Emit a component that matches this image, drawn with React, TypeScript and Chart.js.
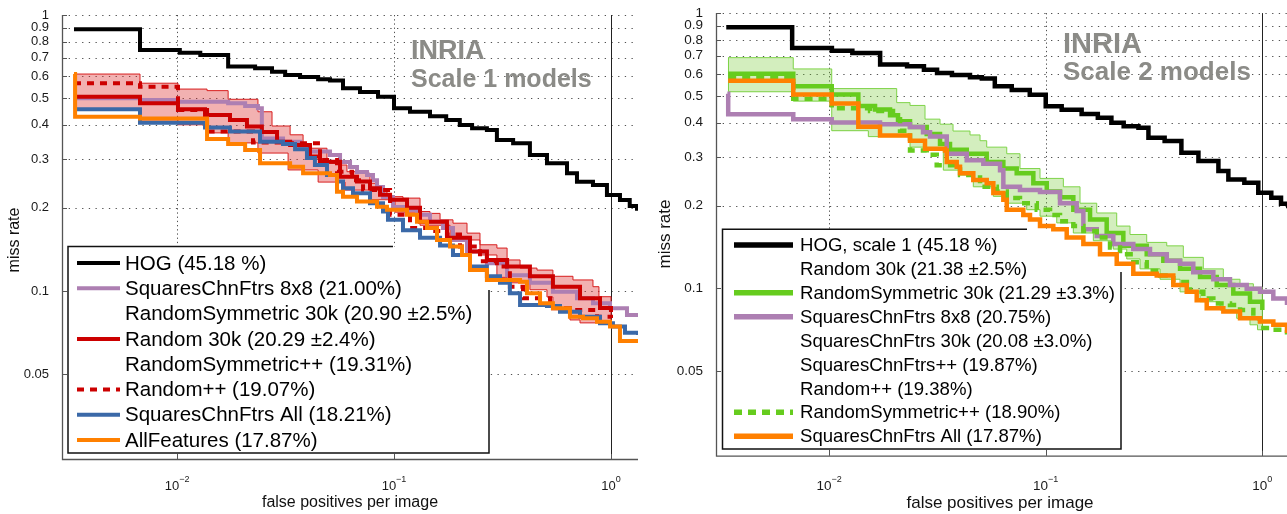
import React, { useEffect, useRef } from 'react';
import { Chart, registerables } from 'chart.js';

Chart.register(...registerables);

// [false positives per image, miss rate]; each point starts a new level of the staircase
type Pt = [number, number];

const FONT = '"Liberation Sans", Arial, Helvetica, sans-serif';

const yTickValues = [0.05, 0.1, 0.2, 0.3, 0.4, 0.5, 0.6, 0.7, 0.8, 0.9, 1];
const yTickLabels = ['0.05', '0.1', '0.2', '0.3', '0.4', '0.5', '0.6', '0.7', '0.8', '0.9', '1'];
const xTickValues = [0.01, 0.1, 1];
const xTickExponents = ['\u22122', '\u22121', '0'];

// HOG baseline, shared by both panels
const hogCurve: Pt[] = [
  [0.00335, 0.888], [0.00675, 0.747], [0.0103, 0.73], [0.0128, 0.716], [0.0172, 0.65],
  [0.0229, 0.641], [0.0274, 0.623], [0.0315, 0.606], [0.0369, 0.596], [0.0447, 0.585],
  [0.0507, 0.579], [0.0582, 0.543], [0.0697, 0.526], [0.0844, 0.505], [0.1, 0.459],
  [0.1185, 0.446], [0.1465, 0.43], [0.174, 0.4165], [0.201, 0.3996], [0.229, 0.3886],
  [0.268, 0.383], [0.298, 0.3524], [0.354, 0.3429], [0.423, 0.311], [0.507, 0.2902],
  [0.627, 0.267], [0.697, 0.2489], [0.826, 0.2421], [0.958, 0.2228], [1.1, 0.2137],
  [1.22, 0.203], [1.318, 0.1954],
];

// ---- Scale 1 models ----
const s1Squares8x8: Pt[] = [
  [0.00335, 0.499], [0.00675, 0.492], [0.0101, 0.485], [0.0172, 0.479], [0.0206, 0.468],
  [0.0236, 0.459], [0.0246, 0.357], [0.0308, 0.347], [0.0369, 0.332], [0.041, 0.32],
  [0.0507, 0.311], [0.0564, 0.293], [0.0627, 0.281], [0.0675, 0.27], [0.0751, 0.263],
  [0.08, 0.252], [0.0835, 0.238], [0.089, 0.219], [0.0989, 0.2015], [0.11, 0.197],
  [0.1276, 0.189], [0.1465, 0.178], [0.168, 0.169], [0.187, 0.153], [0.217, 0.139],
  [0.268, 0.126], [0.332, 0.114], [0.423, 0.107], [0.54, 0.0994], [0.697, 0.0941],
  [0.826, 0.0902], [0.99, 0.0866], [1.185, 0.0818], [1.332, 0.0807],
];
const s1Random30k: Pt[] = [
  [0.00335, 0.506], [0.00675, 0.479], [0.0101, 0.455], [0.01346, 0.434], [0.01754, 0.4165],
  [0.021, 0.394], [0.0246, 0.377], [0.0289, 0.3475], [0.0332, 0.338], [0.041, 0.307],
  [0.0456, 0.294], [0.0564, 0.2595], [0.0675, 0.249], [0.0775, 0.2355], [0.0862, 0.223],
  [0.0959, 0.214], [0.1148, 0.2], [0.1318, 0.178], [0.1754, 0.156], [0.224, 0.139],
  [0.268, 0.1295], [0.332, 0.1225], [0.423, 0.113], [0.54, 0.1036], [0.72, 0.0941],
  [0.89, 0.0868], [1.0, 0.0839],
];
const s1Random30kUpper: Pt[] = [
  [0.00335, 0.611], [0.00675, 0.566], [0.0101, 0.539], [0.01375, 0.532], [0.0172, 0.495],
  [0.0236, 0.446], [0.0274, 0.396], [0.0332, 0.368], [0.0381, 0.333], [0.041, 0.329],
  [0.0491, 0.29], [0.0564, 0.286], [0.0607, 0.2705], [0.0751, 0.267], [0.0775, 0.2456],
  [0.0835, 0.232], [0.0928, 0.2196], [0.11, 0.217], [0.1318, 0.194], [0.1465, 0.191],
  [0.163, 0.181], [0.187, 0.176], [0.217, 0.162], [0.249, 0.147], [0.298, 0.143],
  [0.332, 0.1295], [0.381, 0.121], [0.456, 0.119], [0.54, 0.113], [0.668, 0.1096],
  [0.826, 0.1036], [0.88, 0.0953], [1.0, 0.0953],
];
const s1Random30kLower: Pt[] = [
  [0.00335, 0.611], [0.00336, 0.457], [0.00675, 0.4165], [0.0101, 0.4], [0.01375, 0.374],
  [0.0172, 0.344], [0.0236, 0.316], [0.0325, 0.2745], [0.0447, 0.248], [0.0595, 0.232],
  [0.0775, 0.214], [0.1011, 0.193], [0.1318, 0.173], [0.1812, 0.153], [0.249, 0.135],
  [0.298, 0.112], [0.332, 0.107], [0.423, 0.101], [0.507, 0.0951], [0.54, 0.0868],
  [0.647, 0.0785], [0.72, 0.0766], [1.0, 0.0953],
];
const s1RandomPP: Pt[] = [
  [0.00335, 0.566], [0.00675, 0.55], [0.0101, 0.453], [0.01375, 0.378], [0.0224, 0.345],
  [0.0332, 0.343], [0.0456, 0.298], [0.0546, 0.2705], [0.0641, 0.252], [0.072, 0.232],
  [0.0959, 0.189], [0.1185, 0.169], [0.1465, 0.165], [0.1754, 0.16], [0.2014, 0.145],
  [0.249, 0.128], [0.298, 0.1225], [0.342, 0.1036], [0.393, 0.0941], [0.524, 0.0866],
  [0.647, 0.0853], [0.862, 0.0807], [1.0, 0.0798],
];
const s1SquaresAll: Pt[] = [
  [0.00335, 0.455], [0.00675, 0.407], [0.01346, 0.391], [0.01754, 0.378], [0.02413, 0.3475],
  [0.0308, 0.341], [0.035, 0.326], [0.0397, 0.303], [0.0432, 0.286], [0.0491, 0.263],
  [0.0546, 0.249], [0.0582, 0.2355], [0.0647, 0.226], [0.0775, 0.208], [0.089, 0.194],
  [0.0938, 0.181], [0.11, 0.166], [0.1318, 0.156], [0.163, 0.146], [0.187, 0.135],
  [0.224, 0.1225], [0.268, 0.113], [0.308, 0.107], [0.342, 0.0981], [0.381, 0.089],
  [0.507, 0.0882], [0.582, 0.0841], [0.72, 0.0807], [0.89, 0.0764], [1.021, 0.0743],
  [1.16, 0.0705], [1.332, 0.0693],
];
const s1AllFeatures: Pt[] = [
  [0.00335, 0.611], [0.00339, 0.428], [0.00675, 0.422], [0.01375, 0.355], [0.0172, 0.341],
  [0.0206, 0.324], [0.02413, 0.29], [0.0332, 0.282], [0.0381, 0.267], [0.0507, 0.263],
  [0.0546, 0.229], [0.0582, 0.2196], [0.0675, 0.211], [0.0835, 0.202], [0.0928, 0.197],
  [0.1148, 0.189], [0.1276, 0.178], [0.1419, 0.169], [0.1578, 0.153], [0.1812, 0.145],
  [0.2058, 0.135], [0.224, 0.119], [0.268, 0.1096], [0.381, 0.108], [0.41, 0.0981],
  [0.471, 0.0902], [0.54, 0.0866], [0.647, 0.0807], [0.743, 0.0796], [0.862, 0.0774],
  [0.99, 0.0743], [1.1, 0.0659], [1.332, 0.0659],
];

// ---- Scale 2 models ----
const s2RandSym30k: Pt[] = [
  [0.00342, 0.602], [0.00683, 0.542], [0.01028, 0.506], [0.01364, 0.46], [0.01629, 0.447],
  [0.01911, 0.426], [0.0208, 0.405], [0.02363, 0.3855], [0.02822, 0.364], [0.03251, 0.335],
  [0.03615, 0.319], [0.04318, 0.3085], [0.0534, 0.288], [0.06373, 0.2726], [0.07346, 0.262],
  [0.08766, 0.241], [0.1011, 0.225], [0.1164, 0.2146], [0.1341, 0.1932], [0.1602, 0.178],
  [0.1912, 0.159], [0.2282, 0.143], [0.2926, 0.133], [0.3491, 0.126], [0.417, 0.118],
  [0.5157, 0.11], [0.6159, 0.103], [0.7346, 0.0958], [0.877, 0.0895], [1.0, 0.0835],
];
const s2RandSym30kUpper: Pt[] = [
  [0.00342, 0.689], [0.00683, 0.627], [0.01028, 0.532], [0.02051, 0.473], [0.02363, 0.462],
  [0.02771, 0.412], [0.03251, 0.395], [0.03733, 0.373], [0.04472, 0.361], [0.04974, 0.344],
  [0.0534, 0.326], [0.06607, 0.3085], [0.07607, 0.2726], [0.0941, 0.251], [0.1206, 0.234],
  [0.144, 0.204], [0.172, 0.188], [0.2127, 0.1685], [0.245, 0.157], [0.2926, 0.147],
  [0.362, 0.1428], [0.4318, 0.1297], [0.534, 0.1178], [0.6607, 0.108], [0.789, 0.104],
  [0.909, 0.101], [1.0, 0.0998],
];
const s2RandSym30kLower: Pt[] = [
  [0.00342, 0.689], [0.00343, 0.518], [0.00683, 0.479], [0.01028, 0.374], [0.01517, 0.356],
  [0.02363, 0.326], [0.02722, 0.317], [0.03367, 0.269], [0.04021, 0.258], [0.04631, 0.234],
  [0.0573, 0.216], [0.06607, 0.204], [0.0817, 0.1932], [0.0941, 0.183], [0.1124, 0.173],
  [0.1341, 0.159], [0.1659, 0.149], [0.2051, 0.139], [0.2366, 0.128], [0.2725, 0.1178],
  [0.3371, 0.108], [0.417, 0.0972], [0.5157, 0.0895], [0.638, 0.0835], [0.7616, 0.0779],
  [0.877, 0.0738], [0.95, 0.0708], [1.0, 0.0998],
];
const s2RandSymPP: Pt[] = [
  [0.00342, 0.586], [0.00683, 0.489], [0.01028, 0.451], [0.01545, 0.441], [0.01972, 0.412],
  [0.02125, 0.374], [0.02363, 0.317], [0.02822, 0.306], [0.03139, 0.28], [0.04021, 0.258],
  [0.04974, 0.234], [0.0594, 0.225], [0.06607, 0.213], [0.07607, 0.204], [0.0909, 0.1932],
  [0.1047, 0.185], [0.1164, 0.1756], [0.1341, 0.1685], [0.1492, 0.1616], [0.172, 0.153],
  [0.1981, 0.141], [0.2203, 0.133], [0.2537, 0.1245], [0.2926, 0.116], [0.3371, 0.1115],
  [0.3882, 0.1055], [0.4636, 0.0972], [0.534, 0.0919], [0.594, 0.0882], [0.709, 0.0871],
  [0.789, 0.0835], [0.909, 0.0779], [0.976, 0.0718], [1.124, 0.0708], [1.3, 0.068],
];
const s2Squares8x8: Pt[] = [
  [0.00339, 0.509], [0.00342, 0.429], [0.00683, 0.412], [0.01028, 0.401], [0.01718, 0.395],
  [0.02363, 0.3855], [0.02714, 0.369], [0.02923, 0.3565], [0.03491, 0.3085], [0.04318, 0.292],
  [0.05151, 0.284], [0.06152, 0.269], [0.06373, 0.234], [0.07607, 0.228], [0.0941, 0.224],
  [0.1164, 0.204], [0.139, 0.191], [0.1492, 0.164], [0.172, 0.155], [0.2051, 0.145],
  [0.2537, 0.139], [0.303, 0.133], [0.362, 0.126], [0.417, 0.123], [0.48, 0.1146],
  [0.594, 0.108], [0.709, 0.103], [0.847, 0.0998], [0.976, 0.0972], [1.124, 0.0919],
  [1.3, 0.0871],
];
const s2SquaresAll: Pt[] = [
  [0.00342, 0.568], [0.00683, 0.506], [0.01028, 0.47], [0.01364, 0.3865], [0.01718, 0.359],
  [0.02363, 0.344], [0.02771, 0.3215], [0.03428, 0.317], [0.03491, 0.288], [0.03882, 0.2765],
  [0.04021, 0.262], [0.04631, 0.2475], [0.0534, 0.241], [0.0573, 0.222], [0.06373, 0.21],
  [0.06607, 0.193], [0.0788, 0.185], [0.0846, 0.178], [0.0941, 0.1685], [0.1084, 0.164],
  [0.125, 0.153], [0.1492, 0.145], [0.1781, 0.133], [0.2127, 0.123], [0.2537, 0.113],
  [0.3254, 0.1115], [0.3882, 0.103], [0.4477, 0.0972], [0.4978, 0.0907], [0.5537, 0.0847],
  [0.6607, 0.0824], [0.789, 0.0779], [0.976, 0.0758], [1.124, 0.0738], [1.3, 0.0689],
];

// legend texts; rows without a key have no curve drawn
const s1LegendLabels = [
  'HOG (45.18 %)',
  'SquaresChnFtrs 8x8 (21.00%)',
  'RandomSymmetric 30k (20.90 \u00b12.5%)',
  'Random 30k (20.29 \u00b12.4%)',
  'RandomSymmetric++ (19.31%)',
  'Random++ (19.07%)',
  'SquaresChnFtrs All (18.21%)',
  'AllFeatures (17.87%)',
];
const s1LegendKeys = ['hog', 'sq8', '', 'rnd', '', 'rndpp', 'sqAll', 'allF'];

const s2LegendLabels = [
  'HOG, scale 1 (45.18 %)',
  'Random 30k (21.38 \u00b12.5%)',
  'RandomSymmetric 30k (21.29 \u00b13.3%)',
  'SquaresChnFtrs 8x8 (20.75%)',
  'SquaresChnFtrs 30k (20.08 \u00b13.0%)',
  'SquaresChnFtrs++ (19.87%)',
  'Random++ (19.38%)',
  'RandomSymmetric++ (18.90%)',
  'SquaresChnFtrs All (17.87%)',
];
const s2LegendKeys = ['hog', '', 'rsym', 'sq8', '', '', '', 'rsympp', 'sqAll'];

const BLACK = '#000000';
const PURPLE = '#ad7fb2';
const RED = '#cc0000';
const BLUE = '#3b69a8';
const ORANGE = '#ff8000';
const GREEN = '#66cc1e';

interface Series { key: string; data: Pt[]; color: string; dash?: number[] }
interface Band { upper: Pt[]; lower: Pt[]; edge: string; fill: string }
interface LegendBox {
  left: number; top: number; right: number; bottom: number;
  openX: number; openY: number;
  lineX0: number; lineX1: number; textX: number;
  row0: number; rowStep: number; fontSize: number; lineWidth: number;
  labels: string[]; keys: string[];
}
interface PanelSpec {
  left: number; width: number;
  padTop: number; padRight: number; yAxisWidth: number; xAxisHeight: number;
  xMin: number; xMax: number; yMin: number;
  lineWidth: number; tickSize: number; axisTitleSize: number;
  series: Series[]; band: Band; legend: LegendBox;
  title: [string, string]; titleX: number; title1Y: number; title2Y: number;
  title1Size: number; title2Size: number;
  yTitleX: number; yTitleY: number; xTitleX: number; xTitleY: number;
  xTickBaseline: number;
}

function drawLegend(ctx: CanvasRenderingContext2D, spec: PanelSpec) {
  const L = spec.legend;
  ctx.save();
  ctx.fillStyle = '#ffffff';
  ctx.fillRect(L.left, L.top, L.right - L.left, L.bottom - L.top);
  // frame, left open at the top-right corner where the curves pass
  ctx.strokeStyle = '#111111';
  ctx.lineWidth = 1.5;
  ctx.setLineDash([]);
  ctx.beginPath();
  ctx.moveTo(L.openX, L.top);
  ctx.lineTo(L.left, L.top);
  ctx.lineTo(L.left, L.bottom);
  ctx.lineTo(L.right, L.bottom);
  ctx.lineTo(L.right, L.openY);
  ctx.stroke();

  ctx.font = `${L.fontSize}px ${FONT}`;
  ctx.textBaseline = 'middle';
  ctx.textAlign = 'left';
  L.labels.forEach((label, i) => {
    const cy = L.row0 + i * L.rowStep;
    const s = spec.series.find((d) => d.key === L.keys[i]);
    if (s) {
      ctx.strokeStyle = s.color;
      ctx.lineWidth = L.lineWidth;
      ctx.lineCap = 'butt';
      ctx.setLineDash(s.dash ?? []);
      ctx.beginPath();
      ctx.moveTo(L.lineX0, cy);
      ctx.lineTo(L.lineX1, cy);
      ctx.stroke();
      ctx.setLineDash([]);
    }
    ctx.fillStyle = '#000000';
    ctx.fillText(label, L.textX, cy + 1);
  });
  ctx.restore();
}

function panelPlugin(spec: PanelSpec) {
  return {
    id: 'inriaPanel',
    beforeDatasetsDraw(chart: any) {
      const { ctx, chartArea: a } = chart;
      const xs = chart.scales.x;
      const ys = chart.scales.y;
      ctx.save();
      // dotted grid
      ctx.lineWidth = 1;
      ctx.strokeStyle = 'rgba(50,50,50,0.85)';
      ctx.setLineDash([1.3, 5.4]);
      ctx.beginPath();
      for (const v of yTickValues) {
        const py = Math.round(ys.getPixelForValue(v)) + 0.5;
        ctx.moveTo(a.left, py);
        ctx.lineTo(a.right, py);
      }
      ctx.stroke();
      ctx.setLineDash([1.3, 2.9]);
      ctx.beginPath();
      for (const v of xTickValues) {
        if (v >= 1) continue;
        const px = Math.round(xs.getPixelForValue(v)) + 0.5;
        ctx.moveTo(px, a.top);
        ctx.lineTo(px, a.bottom);
      }
      ctx.stroke();
      ctx.setLineDash([]);
      // solid reference line at one false positive per image
      const p1 = Math.round(xs.getPixelForValue(1)) + 0.5;
      ctx.strokeStyle = '#222222';
      ctx.beginPath();
      ctx.moveTo(p1, a.top);
      ctx.lineTo(p1, a.bottom);
      ctx.stroke();
      // axes
      ctx.strokeStyle = '#555555';
      ctx.lineWidth = 1.3;
      ctx.beginPath();
      ctx.moveTo(a.left + 0.5, a.top);
      ctx.lineTo(a.left + 0.5, a.bottom + 0.5);
      ctx.lineTo(a.right, a.bottom + 0.5);
      ctx.stroke();
      ctx.lineWidth = 1;
      ctx.beginPath();
      for (const v of yTickValues) {
        const py = Math.round(ys.getPixelForValue(v)) + 0.5;
        ctx.moveTo(a.left, py);
        ctx.lineTo(a.left + 5, py);
      }
      for (const v of xTickValues) {
        const px = Math.round(xs.getPixelForValue(v)) + 0.5;
        ctx.moveTo(px, a.bottom);
        ctx.lineTo(px, a.bottom - 5);
      }
      ctx.stroke();
      drawLegend(ctx, spec);
      ctx.restore();
    },
    afterDraw(chart: any) {
      const { ctx } = chart;
      const xs = chart.scales.x;
      ctx.save();
      // decade labels with superscript exponents
      ctx.fillStyle = '#1a1a1a';
      ctx.textAlign = 'left';
      ctx.textBaseline = 'alphabetic';
      const expSize = Math.round(spec.tickSize * 0.7);
      xTickValues.forEach((v, i) => {
        const px = xs.getPixelForValue(v);
        ctx.font = `${spec.tickSize}px ${FONT}`;
        const wb = ctx.measureText('10').width;
        ctx.font = `${expSize}px ${FONT}`;
        const we = ctx.measureText(xTickExponents[i]).width;
        const x0 = px - (wb + we) / 2;
        ctx.font = `${spec.tickSize}px ${FONT}`;
        ctx.fillText('10', x0, spec.xTickBaseline);
        ctx.font = `${expSize}px ${FONT}`;
        ctx.fillText(xTickExponents[i], x0 + wb, spec.xTickBaseline - 8);
      });
      // axis titles
      ctx.fillStyle = '#111111';
      ctx.font = `${spec.axisTitleSize}px ${FONT}`;
      ctx.textAlign = 'center';
      ctx.textBaseline = 'middle';
      ctx.fillText('false positives per image', spec.xTitleX, spec.xTitleY);
      ctx.save();
      ctx.translate(spec.yTitleX, spec.yTitleY);
      ctx.rotate(-Math.PI / 2);
      ctx.fillText('miss rate', 0, 0);
      ctx.restore();
      // panel caption
      ctx.fillStyle = '#8b8b87';
      ctx.textAlign = 'left';
      ctx.textBaseline = 'alphabetic';
      ctx.font = `bold ${spec.title1Size}px ${FONT}`;
      ctx.fillText(spec.title[0], spec.titleX, spec.title1Y);
      ctx.font = `bold ${spec.title2Size}px ${FONT}`;
      ctx.fillText(spec.title[1], spec.titleX, spec.title2Y);
      ctx.restore();
    },
  };
}

function buildConfig(spec: PanelSpec): any {
  const toXY = (d: Pt[]) => d.map(([x, y]) => ({ x, y }));
  const lines = spec.series.map((s) => ({
    label: s.key,
    data: toXY(s.data),
    borderColor: s.color,
    borderWidth: spec.lineWidth,
    borderDash: s.dash ?? [],
    stepped: true,
    fill: false,
    pointRadius: 0,
  }));
  const band = [
    {
      label: 'band-upper',
      data: toXY(spec.band.upper),
      borderColor: spec.band.edge,
      borderWidth: 1,
      stepped: true,
      fill: '+1',
      backgroundColor: spec.band.fill,
      pointRadius: 0,
    },
    {
      label: 'band-lower',
      data: toXY(spec.band.lower),
      borderColor: spec.band.edge,
      borderWidth: 1,
      stepped: true,
      fill: false,
      pointRadius: 0,
    },
  ];
  return {
    type: 'line',
    data: { datasets: [...lines, ...band] },
    options: {
      responsive: false,
      animation: false,
      events: [],
      layout: { padding: { left: 0, top: spec.padTop, right: spec.padRight, bottom: 0 } },
      plugins: { legend: { display: false }, tooltip: { enabled: false }, title: { display: false } },
      elements: {
        point: { radius: 0 },
        line: { borderJoinStyle: 'miter', borderCapStyle: 'butt', tension: 0 },
      },
      scales: {
        x: {
          type: 'logarithmic',
          bounds: 'data',
          min: spec.xMin,
          max: spec.xMax,
          grid: { display: false },
          border: { display: false },
          ticks: { display: false },
          afterBuildTicks: (s: any) => {
            s.ticks = xTickValues.map((value) => ({ value }));
          },
          afterFit: (s: any) => {
            s.height = spec.xAxisHeight;
          },
        },
        y: {
          type: 'logarithmic',
          bounds: 'data',
          min: spec.yMin,
          max: 1,
          grid: { display: false },
          border: { display: false },
          ticks: {
            autoSkip: false,
            padding: 5,
            color: '#1a1a1a',
            font: { family: FONT, size: spec.tickSize },
            callback: (_v: number, i: number) => yTickLabels[i],
          },
          afterBuildTicks: (s: any) => {
            s.ticks = yTickValues.map((value) => ({ value }));
          },
          afterFit: (s: any) => {
            s.width = spec.yAxisWidth;
          },
        },
      },
    },
    plugins: [panelPlugin(spec)],
  };
}

const scale1Panel: PanelSpec = {
  left: 0, width: 645,
  padTop: 15, padRight: 7, yAxisWidth: 62, xAxisHeight: 55,
  xMin: 0.00295, xMax: 1.332, yMin: 0.0246,
  lineWidth: 4, tickSize: 13, axisTitleSize: 16,
  series: [
    { key: 'allF', data: s1AllFeatures, color: ORANGE },
    { key: 'sqAll', data: s1SquaresAll, color: BLUE },
    { key: 'rndpp', data: s1RandomPP, color: RED, dash: [7, 6] },
    { key: 'rnd', data: s1Random30k, color: RED },
    { key: 'sq8', data: s1Squares8x8, color: PURPLE },
    { key: 'hog', data: hogCurve, color: BLACK },
  ],
  band: { upper: s1Random30kUpper, lower: s1Random30kLower, edge: '#d81e1e', fill: 'rgba(220,40,40,0.36)' },
  legend: {
    left: 68, top: 246.5, right: 489, bottom: 453, openX: 393, openY: 290,
    lineX0: 77, lineX1: 120, textX: 125, row0: 263, rowStep: 25.3, fontSize: 20.5, lineWidth: 4,
    labels: s1LegendLabels, keys: s1LegendKeys,
  },
  title: ['INRIA', 'Scale 1 models'], titleX: 411, title1Y: 59, title2Y: 87,
  title1Size: 27, title2Size: 25,
  yTitleX: 15, yTitleY: 240, xTitleX: 350, xTitleY: 503, xTickBaseline: 490,
};

const scale2Panel: PanelSpec = {
  left: 645, width: 642,
  padTop: 7.5, padRight: 0, yAxisWidth: 71, xAxisHeight: 58.3,
  xMin: 0.003004, xMax: 1.3, yMin: 0.0247,
  lineWidth: 4.5, tickSize: 13.5, axisTitleSize: 17,
  series: [
    { key: 'sqAll', data: s2SquaresAll, color: ORANGE },
    { key: 'rsympp', data: s2RandSymPP, color: GREEN, dash: [8, 6] },
    { key: 'sq8', data: s2Squares8x8, color: PURPLE },
    { key: 'rsym', data: s2RandSym30k, color: GREEN },
    { key: 'hog', data: hogCurve, color: BLACK },
  ],
  band: { upper: s2RandSym30kUpper, lower: s2RandSym30kLower, edge: '#7fd44a', fill: 'rgba(110,200,40,0.3)' },
  legend: {
    left: 77.5, top: 229.3, right: 476, bottom: 449, openX: 382, openY: 272,
    lineX0: 89, lineX1: 148, textX: 155, row0: 245, rowStep: 23.9, fontSize: 18.6, lineWidth: 5.5,
    labels: s2LegendLabels, keys: s2LegendKeys,
  },
  title: ['INRIA', 'Scale 2 models'], titleX: 418, title1Y: 52.5, title2Y: 80,
  title1Size: 29, title2Size: 26,
  yTitleX: 20, yTitleY: 234, xTitleX: 355, xTitleY: 503, xTickBaseline: 490,
};

function Panel({ spec }: { spec: PanelSpec }) {
  const ref = useRef<HTMLCanvasElement>(null);
  useEffect(() => {
    if (!ref.current) return;
    const chart = new Chart(ref.current, buildConfig(spec));
    return () => chart.destroy();
  }, [spec]);
  return (
    <canvas
      ref={ref}
      width={spec.width}
      height={514}
      style={{ position: 'absolute', left: spec.left, top: 0, width: spec.width, height: 514 }}
    />
  );
}

export default function App() {
  return (
    <div style={{ position: 'absolute', left: 0, top: 0, width: 1287, height: 514, background: '#ffffff', overflow: 'hidden' }}>
      <Panel spec={scale1Panel} />
      <Panel spec={scale2Panel} />
    </div>
  );
}
